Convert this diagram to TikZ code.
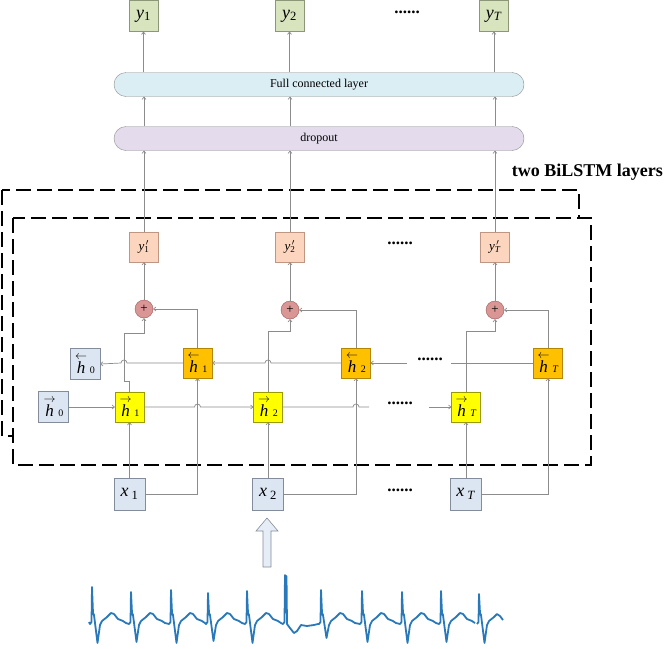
\documentclass[tikz,border=0pt]{standalone}
\usepackage{fontspec}
\setmainfont{Liberation Serif}
\usetikzlibrary{arrows.meta}
\definecolor{lncol}{RGB}{140,140,140}
\definecolor{ygreen}{RGB}{215,228,189}
\definecolor{ygreenb}{RGB}{140,150,120}
\definecolor{fccol}{RGB}{219,238,244}
\definecolor{dropcol}{RGB}{228,220,236}
\definecolor{peach}{RGB}{251,213,189}
\definecolor{peachb}{RGB}{190,150,130}
\definecolor{pluscol}{RGB}{217,150,148}
\definecolor{plusb}{RGB}{160,90,90}
\definecolor{orangec}{RGB}{255,192,0}
\definecolor{yellowc}{RGB}{255,255,0}
\definecolor{greyblue}{RGB}{220,230,242}
\definecolor{greyblueb}{RGB}{130,140,155}
\definecolor{ecgcol}{RGB}{41,121,186}
\newcommand{\hf}[1]{$\stackrel{\rightarrow}{\mbox{\textit{h}}}$\,{\fontsize{10}{10}\selectfont #1}}
\newcommand{\hb}[1]{$\stackrel{\leftarrow}{\mbox{\textit{h}}}$\,{\fontsize{10}{10}\selectfont #1}}
\tikzset{
  conn/.style={draw=lncol, line width=0.7pt, -{To[length=3pt,width=4.5pt]}},
  plainln/.style={draw=lncol, line width=0.7pt},
  ybox/.style={draw=ygreenb, fill=ygreen, minimum width=29pt, minimum height=31pt, inner sep=0pt, font=\fontsize{18}{18}\selectfont},
  layerbox/.style={draw=lncol, rounded corners=12pt, minimum width=410pt, minimum height=24pt, inner sep=0pt, font=\fontsize{12}{12}\selectfont},
  ypbox/.style={draw=peachb, fill=peach, minimum width=29pt, minimum height=30pt, inner sep=0pt, font=\fontsize{13}{13}\selectfont},
  plusnode/.style={circle, draw=plusb, fill=pluscol, minimum size=18pt, inner sep=0pt, font=\fontsize{13}{13}\selectfont},
  hbbox/.style={draw=orangec!70!black, fill=orangec, minimum width=29pt, minimum height=30pt, inner sep=0pt, font=\fontsize{17}{17}\selectfont},
  hfbox/.style={draw=yellowc!60!black, fill=yellowc, minimum width=29pt, minimum height=30pt, inner sep=0pt, font=\fontsize{17}{17}\selectfont},
  initbox/.style={draw=greyblueb, fill=greyblue, minimum width=30pt, minimum height=31pt, inner sep=0pt, font=\fontsize{17}{17}\selectfont},
  xbox/.style={draw=greyblueb, fill=greyblue, minimum width=31pt, minimum height=32pt, inner sep=0pt, font=\fontsize{18}{18}\selectfont},
  dashbox/.style={draw=black, line width=2.8pt, dash pattern=on 15pt off 6pt},
  dots/.style={font=\bfseries\fontsize{17}{17}\selectfont, inner sep=0pt}
}
\begin{document}
\begin{tikzpicture}[x=1pt,y=-1pt]
\useasboundingbox (0,0) rectangle (664,648);
% dashed boxes
\draw[dashbox] (2,190) rectangle (579,436);
\draw[dashbox, fill=white] (13,218) rectangle (591,465);
\node[font=\bfseries\fontsize{18}{18}\selectfont, anchor=east, inner sep=0pt] (title) at (663,172) {two BiLSTM layers};

% top outputs
\node[ybox] (y1) at (143.5,16) {\textit{y}\textsubscript{1}};
\node[ybox] (y2) at (289.5,16) {\textit{y}\textsubscript{2}};
\node[ybox] (yT) at (494,16) {\textit{y}\textsubscript{\textit{T}}};
\node[dots] (d0) at (407,12) {......};

\node[layerbox, fill=fccol] (fc) at (319,84.5) {Full connected layer};
\node[layerbox, fill=dropcol] (drop) at (319,138.5) {dropout};

% y' boxes
\node[ypbox] (yp1) at (144,247) {\textit{y}\rlap{\textsuperscript{\,$\prime$}}\textsubscript{1}};
\node[ypbox] (yp2) at (290,247) {\textit{y}\rlap{\textsuperscript{\,$\prime$}}\textsubscript{2}};
\node[ypbox] (ypT) at (495,247) {\textit{y}\rlap{\textsuperscript{\,$\prime$}}\textsubscript{\textit{T}}};
\node[dots] (d1) at (400,243) {......};

% plus nodes
\node[plusnode] (p1) at (144,309) {+};
\node[plusnode] (p2) at (290,310) {+};
\node[plusnode] (pT) at (495,310) {+};

% backward states
\node[initbox] (hb0) at (85,364) {\hb{0}};
\node[hbbox] (hb1) at (197.5,363) {\hb{1}};
\node[hbbox] (hb2) at (356,363) {\hb{2}};
\node[hbbox] (hbT) at (548,363) {\hb{\textit{T}}};

% forward states
\node[initbox] (hf0) at (53.5,407) {\hf{0}};
\node[hfbox] (hf1) at (129.5,407) {\hf{1}};
\node[hfbox] (hf2) at (268,407) {\hf{2}};
\node[hfbox] (hfT) at (466,407) {\hf{\textit{T}}};

% inputs
\node[xbox] (x1) at (129.5,494) {\textit{x}\,\textsubscript{1}};
\node[xbox] (x2) at (268,494) {\textit{x}\,\textsubscript{2}};
\node[xbox] (xT) at (466,494) {\textit{x}\,\textsubscript{\textit{T}}};
\node[dots] (d4) at (400,490) {......};

% dots in chains
\node[dots] (d2) at (400,403) {......};
\node[dots] (d3) at (430,359) {......};
\coordinate (f1) at (369,407);
\coordinate (f2) at (429,407);
\coordinate (b1) at (451,363);
\coordinate (b2) at (407,363);

% input connections
\draw[conn] (x1.north) -- (hf1.south);
\draw[conn] (x1.east) -| (hb1.south);
\draw[conn] (x2.north) -- (hf2.south);
\draw[conn] (x2.east) -| (hb2.south);
\draw[conn] (xT.north) -- (hfT.south);
\draw[conn] (xT.east) -| (hbT.south);

% forward chain
\draw[conn] (hf0.east) -- (hf1.west);
\draw[conn] (hf1.east) -- (194.5,407) arc[start angle=180,end angle=0,radius=3pt] -- (hf2.west);
\draw[plainln] (hf2.east) -- (353,407) arc[start angle=180,end angle=0,radius=3pt] -- (f1);
\draw[conn] (f2) -- (hfT.west);

% backward chain
\draw[plainln] (hbT.west) -- (b1);
\draw[conn] (b2) -- (hb2.east);
\draw[conn] (hb2.west) -- (271,363) arc[start angle=0,end angle=180,radius=3pt] -- (hb1.east);
\draw[conn] (hb1.west) -- (127,363) arc[start angle=0,end angle=180,radius=3pt] -- (hb0.east);

% to plus nodes
\draw[conn] (hf1.north) -- (129.5,381) -- (124,381) -- (124,333) -- (144,333) -- (p1.south);
\draw[conn] (hb1.north) |- (p1.east);
\draw[conn] (hf2.north) -- (268,331) -- (290,331) -- (p2.south);
\draw[conn] (hb2.north) |- (p2.east);
\draw[conn] (hfT.north) -- (466,331) -- (495,331) -- (pT.south);
\draw[conn] (hbT.north) |- (pT.east);

% plus to y'
\draw[conn] (p1.north) -- (yp1.south);
\draw[conn] (p2.north) -- (yp2.south);
\draw[conn] (pT.north) -- (ypT.south);

% y' to dropout
\draw[conn] (yp1.north) -- (yp1.north |- drop.south);
\draw[conn] (yp2.north) -- (yp2.north |- drop.south);
\draw[conn] (ypT.north) -- (ypT.north |- drop.south);
% dropout to fc
\draw[conn] (yp1.north |- drop.north) -- (yp1.north |- fc.south);
\draw[conn] (yp2.north |- drop.north) -- (yp2.north |- fc.south);
\draw[conn] (ypT.north |- drop.north) -- (ypT.north |- fc.south);
% fc to y
\draw[conn] (y1.south |- fc.north) -- (y1.south);
\draw[conn] (y2.south |- fc.north) -- (y2.south);
\draw[conn] (yT.south |- fc.north) -- (yT.south);

% big input arrow
\draw[draw=greyblueb, fill=greyblue!70!white, line width=0.6pt]
  (263,567) -- (263,531) -- (256,531) -- (267,518) -- (278,531) -- (271,531) -- (271,567) -- cycle;

% ECG
\draw[ecgcol, line width=1.8pt, line join=round]
  (89,622) \foreach \p/\h/\s in {92/587/643, 131/592/642, 171/590/643, 208/593/641, 247/591/643, 321/590/638, 362/591/642, 402/592/643, 441/591/642}
  { -- (\p-2,624) -- (\p-0.5,622) -- (\p,\h) -- (\p+1,613) -- (\p+2,615) -- (\p+5.5,\s) -- (\p+8,625) -- (\p+10,621) -- (\p+15,617) -- (\p+19,613) -- (\p+22,614) -- (\p+26,619) -- (\p+31,621) -- (\p+34,623)
    \ifnum\p=247 -- (283,624) -- (284.5,622) -- (285,575) -- (286,600) -- (286.5,576) -- (287,624) -- (290,628) -- (294,633) -- (297,631) -- (301,625) -- (307,626) -- (314,625) -- (318,624) \fi };
\draw[ecgcol, line width=1.8pt, line join=round]
  (477,624) -- (478.5,622) -- (479,594) -- (480,613) -- (481,615) -- (484.5,643) -- (487,625) -- (489,621) -- (494,617) -- (497,614) -- (500,616) -- (503,620);
\end{tikzpicture}
\end{document}
